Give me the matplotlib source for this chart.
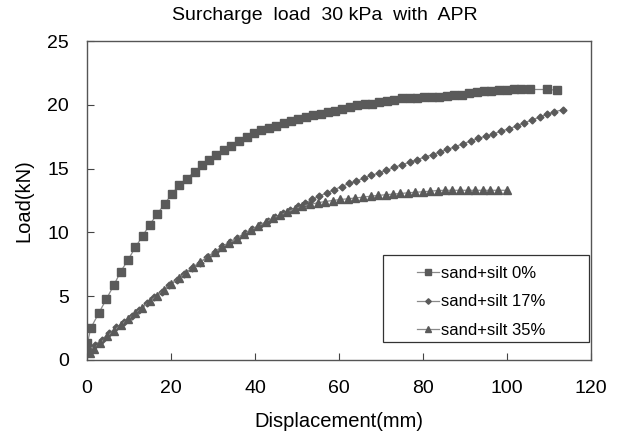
import matplotlib
matplotlib.use("Agg")
import matplotlib.pyplot as plt
from matplotlib.patches import Rectangle
from matplotlib import font_manager

available = {f.name for f in font_manager.fontManager.ttflist}
FONT = "Liberation Sans" if "Liberation Sans" in available else "DejaVu Sans"
plt.rcParams['font.family'] = [FONT, 'DejaVu Sans']

title = "Surcharge  load  30 kPa  with  APR"
xlabel = "Displacement(mm)"
ylabel = "Load(kN)"
labels = ["sand+silt 0%", "sand+silt 17%", "sand+silt 35%"]

x0 = [0.1, 0.9, 2.8, 4.6, 6.4, 8.0, 9.8, 11.5, 13.3, 14.9, 16.7, 18.5, 20.2, 21.9,
      23.7, 25.6, 27.3, 29.0, 30.8, 32.7, 34.4, 36.3, 38.0, 39.8, 41.5, 43.3, 45.0,
      46.8, 48.6, 50.3, 52.1, 53.9, 55.7, 57.4, 59.1, 60.8, 62.6, 64.4, 66.1, 67.9,
      69.6, 71.5, 73.2, 75.0, 76.8, 78.6, 80.3, 82.1, 83.9, 85.7, 87.4, 89.2, 91.0,
      92.8, 94.5, 96.3, 98.1, 99.9, 101.6, 103.4, 105.5, 109.5, 111.9]
y0 = [1.3, 2.5, 3.67, 4.77, 5.87, 6.92, 7.86, 8.83, 9.75, 10.6, 11.43, 12.25, 13.0, 13.7,
      14.2, 14.75, 15.25, 15.67, 16.06, 16.46, 16.8, 17.14, 17.5, 17.8, 18.0, 18.15, 18.35,
      18.55, 18.73, 18.9, 19.05, 19.2, 19.3, 19.4, 19.55, 19.7, 19.86, 19.97, 20.05, 20.1,
      20.2, 20.3, 20.4, 20.5, 20.57, 20.57, 20.6, 20.6, 20.6, 20.7, 20.75, 20.8, 20.9,
      21.0, 21.05, 21.1, 21.15, 21.17, 21.2, 21.2, 21.2, 21.2, 21.15]

x17 = [0.5, 1.8, 3.5, 5.3, 7.0, 8.8, 10.6, 12.4, 14.2, 16.0, 17.8, 19.6, 21.4, 23.2,
       25.0, 26.8, 28.6, 30.4, 32.2, 34.0, 35.8, 37.6, 39.4, 41.2, 43.0, 44.8, 46.6,
       48.4, 50.2, 51.9, 53.6, 55.3, 57.1, 58.9, 60.6, 62.4, 64.1, 66.0, 67.7, 69.6,
       71.3, 73.2, 75.0, 76.8, 78.6, 80.4, 82.3, 84.0, 85.8, 87.6, 89.5, 91.4, 93.2,
       95.0, 96.7, 98.6, 100.4, 102.3, 104.1, 106.0, 107.8, 109.5, 111.3, 113.3]
y17 = [0.8, 1.15, 1.6, 2.1, 2.55, 3.0, 3.45, 3.95, 4.45, 4.9, 5.35, 5.85, 6.3, 6.75,
       7.2, 7.6, 8.05, 8.5, 8.9, 9.25, 9.6, 9.95, 10.3, 10.6, 10.9, 11.2, 11.5,
       11.75, 12.05, 12.3, 12.58, 12.84, 13.1, 13.36, 13.58, 13.84, 14.0, 14.28, 14.46, 14.67,
       14.86, 15.1, 15.3, 15.5, 15.7, 15.9, 16.1, 16.3, 16.5, 16.7, 16.95, 17.16, 17.37,
       17.55, 17.7, 17.95, 18.1, 18.35, 18.6, 18.8, 19.05, 19.25, 19.47, 19.6]

x35 = [0.6, 1.6, 3.2, 4.8, 6.4, 8.1, 9.8, 11.5, 13.2, 15.0, 16.7, 18.4, 20.1, 21.9,
       23.6, 25.3, 27.0, 28.8, 30.5, 32.2, 33.9, 35.6, 37.3, 39.1, 40.8, 42.5, 44.2,
       46.0, 47.7, 49.5, 51.3, 53.1, 54.9, 56.7, 58.5, 60.3, 62.1, 63.9, 65.7, 67.5,
       69.3, 71.1, 72.9, 74.6, 76.4, 78.2, 80.0, 81.7, 83.5, 85.3, 87.0, 88.8, 90.6,
       92.4, 94.2, 96.0, 97.8, 100.0]
y35 = [0.55, 0.9, 1.35, 1.85, 2.3, 2.75, 3.2, 3.65, 4.1, 4.6, 5.05, 5.5, 5.95, 6.4,
       6.85, 7.3, 7.7, 8.1, 8.5, 8.85, 9.2, 9.5, 9.85, 10.2, 10.5, 10.8, 11.1,
       11.35, 11.6, 11.85, 12.05, 12.2, 12.32, 12.42, 12.5, 12.58, 12.63, 12.7, 12.76, 12.84,
       12.9, 12.95, 13.0, 13.05, 13.1, 13.15, 13.18, 13.23, 13.28, 13.3, 13.3, 13.3, 13.3,
       13.3, 13.3, 13.3, 13.3, 13.3]

xticks = [0, 20, 40, 60, 80, 100, 120]
yticks = [0, 5, 10, 15, 20, 25]

W, H = 622, 434
fig = plt.figure(figsize=(W / 100, H / 100), dpi=100)
L, R, T, B = 87, 591, 41, 360
ax = fig.add_axes([L / W, 1 - B / H, (R - L) / W, (B - T) / H])

mc = "#5a5a5a"
lc = "#8a8a8a"
ax.plot(x0, y0, color=lc, lw=0.9, marker="s", ms=5.2, mfc=mc, mec=mc, label=labels[0])
ax.plot(x17, y17, color=lc, lw=0.9, marker="D", ms=3.5, mfc=mc, mec=mc, label=labels[1])
ax.plot(x35, y35, color=lc, lw=0.9, marker="^", ms=5.4, mfc=mc, mec=mc, label=labels[2])

ax.set_xlim(0, 120)
ax.set_ylim(0, 25)
ax.set_xticks(xticks)
ax.set_yticks(yticks)
ax.tick_params(direction="in", length=5, width=0.8, color="#444444",
               labelsize=14, top=False, right=False)
ax.tick_params(axis="x", pad=14.5)
ax.tick_params(axis="y", pad=13)
for s in ax.spines.values():
    s.set_color("#555555")
    s.set_linewidth(1.0)

ax.set_xlabel(xlabel, fontsize=14.5, labelpad=11)
ax.set_ylabel(ylabel, fontsize=14.5, labelpad=10)
fig.text(325 / W, 1 - 15 / H, title, fontsize=14, ha="center", va="center")

# legend frame
lx0, lx1, ly0, ly1 = 383, 589, 255, 342
ax.add_patch(Rectangle(((lx0 - L) / (R - L), (B - ly1) / (B - T)),
                       (lx1 - lx0) / (R - L), (ly1 - ly0) / (B - T),
                       transform=ax.transAxes, fill=False, ec="#333333", lw=0.9, zorder=5))
leg = ax.legend(loc="upper left", bbox_to_anchor=((417 - L) / (R - L), (B - 266) / (B - T)),
                frameon=False, fontsize=12, handlelength=1.3, handletextpad=0.15,
                borderpad=0, borderaxespad=0, labelspacing=0.8, markerscale=0.8)

fig.savefig("out.png", dpi=100)
